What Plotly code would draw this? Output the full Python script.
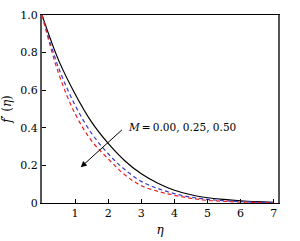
import plotly.graph_objects as go

eta = [0, 0.5, 1, 1.5, 2, 2.5, 3, 3.5, 4, 4.5, 5, 5.5, 6, 6.5, 7]
f_M000 = [1.0, 0.76, 0.58, 0.43, 0.317, 0.225, 0.155, 0.105, 0.068, 0.044, 0.028, 0.019, 0.012, 0.007, 0.003]
f_M025 = [1.0, 0.72, 0.52, 0.37, 0.262, 0.178, 0.115, 0.077, 0.050, 0.031, 0.019, 0.012, 0.007, 0.004, 0.002]
f_M050 = [1.0, 0.69, 0.475, 0.33, 0.235, 0.150, 0.092, 0.062, 0.041, 0.025, 0.014, 0.009, 0.005, 0.003, 0.001]

x_ticks = [1, 2, 3, 4, 5, 6, 7]
y_ticks = [0, 0.2, 0.4, 0.6, 0.8, 1.0]
y_ticklabels = ["0", "0.2", "0.4", "0.6", "0.8", "1.0"]
annotation_text = "<i>M</i>\u2009=\u20090.00, 0.25, 0.50"

FONT = "DejaVu Serif"

fig = go.Figure()
fig.add_trace(go.Scatter(x=eta, y=f_M000, mode="lines", line=dict(color="black", width=1.2, shape="spline")))
fig.add_trace(go.Scatter(x=eta, y=f_M025, mode="lines", line=dict(color="#3a3ad0", width=1.2, dash="4px,3px", shape="spline")))
fig.add_trace(go.Scatter(x=eta, y=f_M050, mode="lines", line=dict(color="#e82020", width=1.2, dash="4px,3px", shape="spline")))

fig.add_annotation(x=1.17, y=0.19, ax=2.46, ay=0.396, xref="x", yref="y", axref="x", ayref="y",
                   text="", showarrow=True, arrowhead=2, arrowsize=1.2, arrowwidth=1, arrowcolor="black")
fig.add_annotation(x=2.55, y=0.405, xref="x", yref="y", text=annotation_text, showarrow=False,
                   xanchor="left", yanchor="middle", font=dict(family=FONT, size=10.5, color="black"))

fig.update_layout(
    width=300, height=241,
    margin=dict(l=42, r=22, t=15, b=38),
    paper_bgcolor="white", plot_bgcolor="white",
    showlegend=False,
    font=dict(family=FONT, size=11, color="black"),
)
fig.update_xaxes(range=[0, 7.13], tickvals=x_ticks, ticks="inside", ticklen=4, tickcolor="black",
                 showline=True, linecolor="black", linewidth=1, mirror=True, showgrid=False, zeroline=False,
                 automargin=False,
                 title=dict(text="<i>η</i>", standoff=6, font=dict(family=FONT, size=12)))
fig.update_yaxes(range=[0, 1], tickvals=y_ticks, ticktext=y_ticklabels, ticks="inside", ticklen=4, tickcolor="black",
                 showline=True, linecolor="#555555", linewidth=2, mirror=True, showgrid=False, zeroline=False,
                 automargin=False,
                 title=dict(text="<i>f</i>\u2032 (<i>η</i>)", standoff=8, font=dict(family=FONT, size=12)))

fig.write_html("out.html")
